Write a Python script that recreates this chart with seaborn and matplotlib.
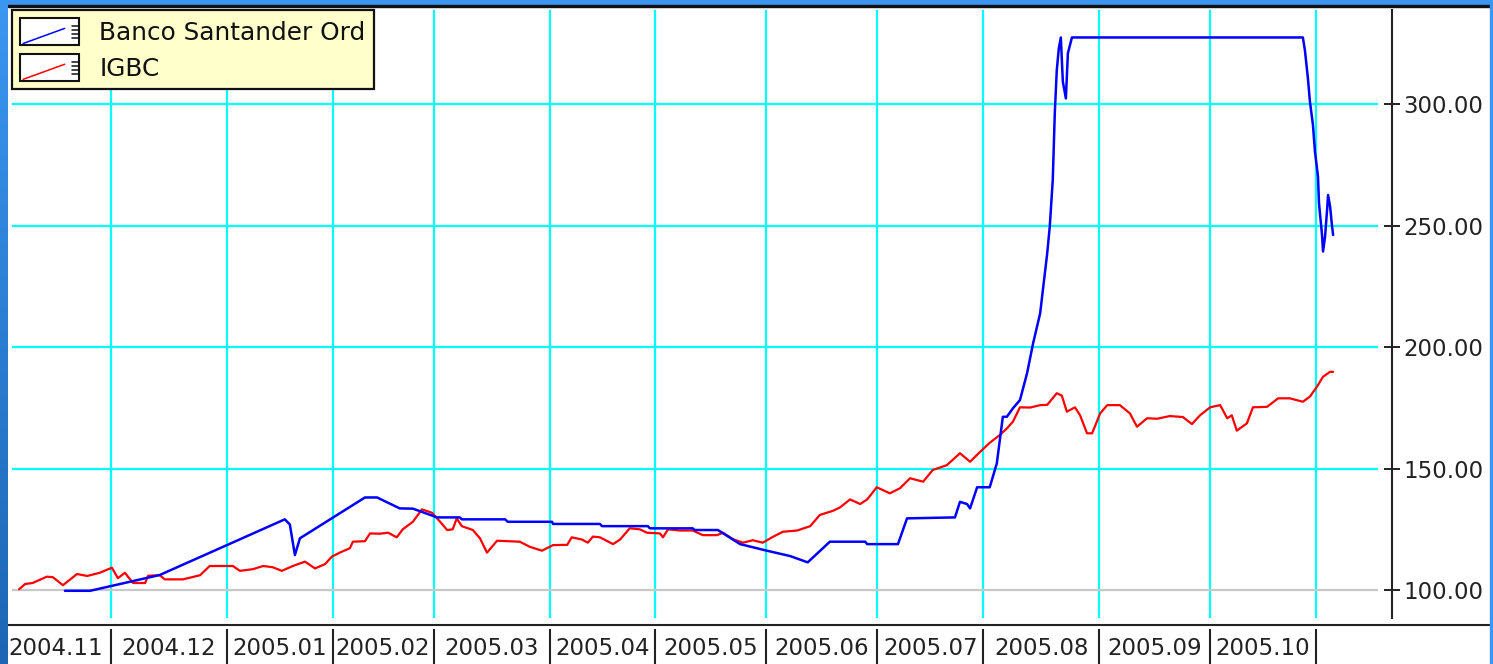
import numpy as np
import pandas as pd
import matplotlib
matplotlib.use("Agg")
import matplotlib.pyplot as plt
import seaborn as sns
from matplotlib.legend_handler import HandlerBase
from matplotlib.patches import Rectangle
from matplotlib.lines import Line2D
from matplotlib.colors import LinearSegmentedColormap

sns.set_style("white")
plt.rcParams['font.family'] = ['DejaVu Sans']

# x = trading day counted from 2004-11-01
igbc_day = [3.8, 5.0, 6.5, 9.3, 10.5, 12.5, 15.3, 17.3, 19.8, 22.2,
            23.4, 24.8, 26.4, 28.8, 29.4, 31.7, 32.7, 36.3, 39.7, 41.6,
            46.2, 47.6, 50.2, 52.2, 54.1, 55.9, 58.1, 60.5, 62.5, 64.5,
            65.8, 67.4, 69.4, 70.0, 72.4, 73.4, 75.4, 77.0, 78.7, 79.9,
            81.9, 83.7, 85.7, 87.3, 88.7, 89.8, 90.6, 91.6, 93.8, 95.2,
            96.6, 98.6, 103.1, 105.1, 107.5, 109.7, 112.5, 113.4, 115.4, 116.6,
            117.6, 119.0, 121.6, 123.0, 124.9, 126.9, 128.3, 130.9, 131.5, 132.5,
            134.9, 137.4, 139.4, 142.2, 143.4, 145.4, 147.4, 149.3, 151.3, 153.3,
            155.3, 158.1, 160.7, 162.6, 165.2, 166.6, 168.6, 170.6, 172.0, 173.9,
            176.5, 178.5, 180.5, 183.1, 185.0, 187.8, 190.4, 192.4, 194.4, 196.3,
            198.3, 199.7, 200.9, 202.3, 204.3, 206.3, 207.7, 209.6, 210.6, 211.6,
            213.2, 214.2, 215.6, 216.6, 218.2, 219.6, 222.1, 224.1, 225.5, 227.5,
            229.5, 232.0, 234.6, 236.4, 238.0, 240.0, 242.0, 243.4, 244.3, 245.3,
            247.3, 248.5, 251.3, 253.5, 255.8, 258.4, 259.8, 261.2, 262.4, 263.8, 264.4]
igbc_val = [100.3, 102.5, 102.9, 105.5, 105.3, 102.0, 106.6, 105.8, 107.1, 109.2,
            104.9, 107.1, 102.9, 102.9, 105.9, 106.1, 104.4, 104.4, 106.1, 109.9,
            109.9, 107.9, 108.6, 109.9, 109.4, 107.9, 109.9, 111.7, 108.9, 110.7,
            113.7, 115.4, 117.2, 119.9, 120.1, 123.3, 123.2, 123.6, 121.7, 125.0,
            128.1, 133.2, 131.8, 128.1, 124.7, 125.0, 129.5, 126.3, 124.7, 121.3,
            115.4, 120.3, 119.9, 117.8, 116.2, 118.5, 118.6, 121.7, 120.8, 119.5,
            122.0, 121.7, 118.9, 120.8, 125.4, 125.0, 123.6, 123.3, 121.7, 125.0,
            124.5, 124.5, 122.6, 122.6, 123.6, 120.9, 119.5, 120.5, 119.5, 121.9,
            124.0, 124.5, 126.3, 130.9, 132.6, 134.0, 137.3, 135.4, 137.3, 142.3,
            139.8, 141.9, 146.0, 144.6, 149.4, 151.4, 156.3, 152.8, 156.9, 160.6,
            163.8, 166.5, 169.3, 175.2, 175.1, 176.1, 176.2, 181.0, 180.0, 173.4,
            175.2, 172.0, 164.5, 164.5, 172.7, 176.1, 176.1, 172.7, 167.2, 170.7,
            170.5, 171.6, 171.2, 168.3, 171.9, 175.2, 176.1, 170.7, 171.9, 165.6,
            168.6, 175.2, 175.4, 178.9, 178.9, 177.5, 179.6, 183.7, 187.8, 189.8, 189.8]

san_day = [12.9, 17.9, 31.7, 56.5, 57.5, 58.5, 59.5, 72.4, 74.8, 79.3,
           81.9, 86.7, 91.2, 91.6, 100.2, 100.7, 109.5, 109.7, 119.0, 119.4,
           128.5, 128.9, 137.4, 137.8, 142.4, 146.8, 152.1, 156.7, 160.2, 164.6,
           171.6, 172.0, 178.1, 179.9, 189.4, 190.4, 191.8, 192.4, 193.8, 196.3,
           197.7, 198.3, 198.9, 199.7, 200.9, 202.3, 203.7, 204.9, 206.3, 207.7,
           208.2, 208.8, 209.2, 209.6, 210.0, 210.4, 210.8, 211.4, 211.8, 212.6,
           258.4, 258.8, 259.4, 259.8, 260.4, 260.8, 261.4, 261.6, 262.2, 262.4,
           262.8, 263.2, 263.4, 263.8, 264.2, 264.4]
san_val = [99.7, 99.7, 106.2, 129.1, 127.0, 114.4, 121.3, 138.1, 138.1, 133.6,
           133.5, 129.9, 129.9, 129.1, 129.1, 128.1, 128.1, 127.2, 127.2, 126.3,
           126.3, 125.4, 125.4, 124.7, 124.7, 118.9, 116.2, 114.0, 111.4, 119.9,
           119.9, 118.9, 118.9, 129.5, 129.9, 136.3, 135.4, 133.6, 142.3, 142.3,
           152.1, 161.7, 171.3, 171.3, 174.8, 178.2, 189.2, 201.5, 213.9, 238.6,
           249.5, 268.7, 296.2, 314.0, 322.9, 327.4, 309.2, 302.3, 320.9, 327.4,
           327.4, 322.2, 310.6, 301.0, 291.4, 280.4, 270.1, 259.2, 246.1, 239.3,
           245.4, 256.4, 262.6, 257.8, 249.5, 246.1]

series_names = ["Banco Santander Ord", "IGBC"]
month_labels = ["2004.11", "2004.12", "2005.01", "2005.02", "2005.03", "2005.04",
                "2005.05", "2005.06", "2005.07", "2005.08", "2005.09", "2005.10"]
y_ticks = [100, 150, 200, 250, 300]

# month boundaries in trading days
bdays = pd.bdate_range("2004-11-01", "2005-11-30")
starts = [int(np.searchsorted(bdays, m)) for m in pd.date_range("2004-11-01", "2005-11-01", freq="MS")]
bounds = starts[1:]
mids = [(a + b) / 2 for a, b in zip(starts[:-1], starts[1:])]

W, H = 1493, 664
fig = plt.figure(figsize=(W / 100, H / 100), dpi=100, facecolor="white")
ax = fig.add_axes([12 / W, 1 - 618 / H, (1378 - 12) / W, (618 - 10) / H])

df_igbc = pd.DataFrame({"day": igbc_day, "value": igbc_val})
df_san = pd.DataFrame({"day": san_day, "value": san_val})
sns.lineplot(data=df_igbc, x="day", y="value", color="#FF0000", lw=1.6,
             sort=False, estimator=None, ax=ax, zorder=4)
sns.lineplot(data=df_san, x="day", y="value", color="#0000FF", lw=1.8,
             sort=False, estimator=None, ax=ax, zorder=5)

ax.set_xlim(2.4, 273.3)
ax.set_ylim(88.5, 338.7)
ax.set_xlabel("")
ax.set_ylabel("")

for v in y_ticks:
    ax.axhline(v, color="#c8c8c8" if v == 100 else "#00FFFF", lw=1.6, zorder=1)

ax.yaxis.tick_right()
ax.set_yticks(y_ticks)
ax.set_yticklabels([f"{v:.2f}" for v in y_ticks])
ax.tick_params(axis="y", direction="inout", length=11, width=1.4, color="#222222",
               labelsize=16.5, labelcolor="#222222", pad=3)

ax.set_xticks(bounds)
ax.set_xticklabels([])
ax.set_xticks(mids, minor=True)
ax.set_xticklabels(month_labels, minor=True)
ax.tick_params(axis="x", which="major", bottom=True, direction="out", length=27,
               width=1.5, color="#222222")
ax.tick_params(axis="x", which="minor", bottom=True, length=0, labelsize=16.5,
               labelcolor="#222222", pad=6)
ax.grid(False)
ax.grid(axis="x", which="major", color="#00FFFF", lw=1.6)

ax.spines["top"].set_visible(False)
ax.spines["left"].set_visible(False)
ax.spines["bottom"].set_visible(False)
ax.spines["bottom"].set_position(("outward", 8))
ax.spines["right"].set_position(("outward", 10))
ax.spines["right"].set_linewidth(1.5)
ax.spines["right"].set_color("#222222")

fig.add_artist(Line2D([8 / W, 1490 / W], [1 - 625 / H] * 2, transform=fig.transFigure,
                      color="#222222", lw=1.5))


class ChartIcon(HandlerBase):
    def create_artists(self, legend, orig_handle, xdescent, ydescent, width, height, fontsize, trans):
        x0, y0 = -xdescent, -ydescent
        arts = [Rectangle((x0, y0), width, height, facecolor="white", edgecolor="#111111",
                          lw=1.5, transform=trans)]
        arts.append(Line2D([x0 + 0.05 * width, x0 + 0.75 * width],
                           [y0 + 0.06 * height, y0 + 0.62 * height],
                           color=orig_handle.get_color(), lw=1.1, transform=trans))
        for f in (0.27, 0.42, 0.56, 0.7):
            arts.append(Line2D([x0 + 0.87 * width, x0 + width], [y0 + f * height] * 2,
                               color="#111111", lw=1.1, transform=trans))
        return arts


handles = [Line2D([], [], color="#0000FF"), Line2D([], [], color="#FF0000")]
leg = fig.legend(handles, series_names, handler_map={Line2D: ChartIcon()},
                 loc="upper left", bbox_to_anchor=(12 / W, 1 - 10 / H),
                 bbox_transform=fig.transFigure, fontsize=17.8, handlelength=2.4,
                 handleheight=1.3, handletextpad=0.8, labelspacing=0.36,
                 borderpad=0.33, borderaxespad=0, frameon=True, fancybox=False,
                 facecolor="#FFFFCC", edgecolor="#111111", framealpha=1)
leg.get_frame().set_linewidth(1.6)
for t in leg.get_texts():
    t.set_color("#111111")

# blue slide frame around the chart
fig.add_artist(Rectangle((0, 1 - 5 / H), 1, 5 / H, transform=fig.transFigure,
                         color="#3a96f0", zorder=10))
fig.add_artist(Rectangle((8 / W, 1 - 7 / H), 1482 / W, 2 / H, transform=fig.transFigure,
                         color="#111111", zorder=10))
fig.add_artist(Rectangle((1490 / W, 0), 3 / W, 1, transform=fig.transFigure,
                         color="#3a96f0", zorder=10))
side = fig.add_axes([0, 0, 8 / W, 1 - 5 / H], zorder=10)
side.imshow(np.linspace(0, 1, 100).reshape(-1, 1), aspect="auto",
            cmap=LinearSegmentedColormap.from_list("side", ["#3a96f0", "#1d66b5"]))
side.axis("off")

fig.savefig("out.png", dpi=100, facecolor="white")
